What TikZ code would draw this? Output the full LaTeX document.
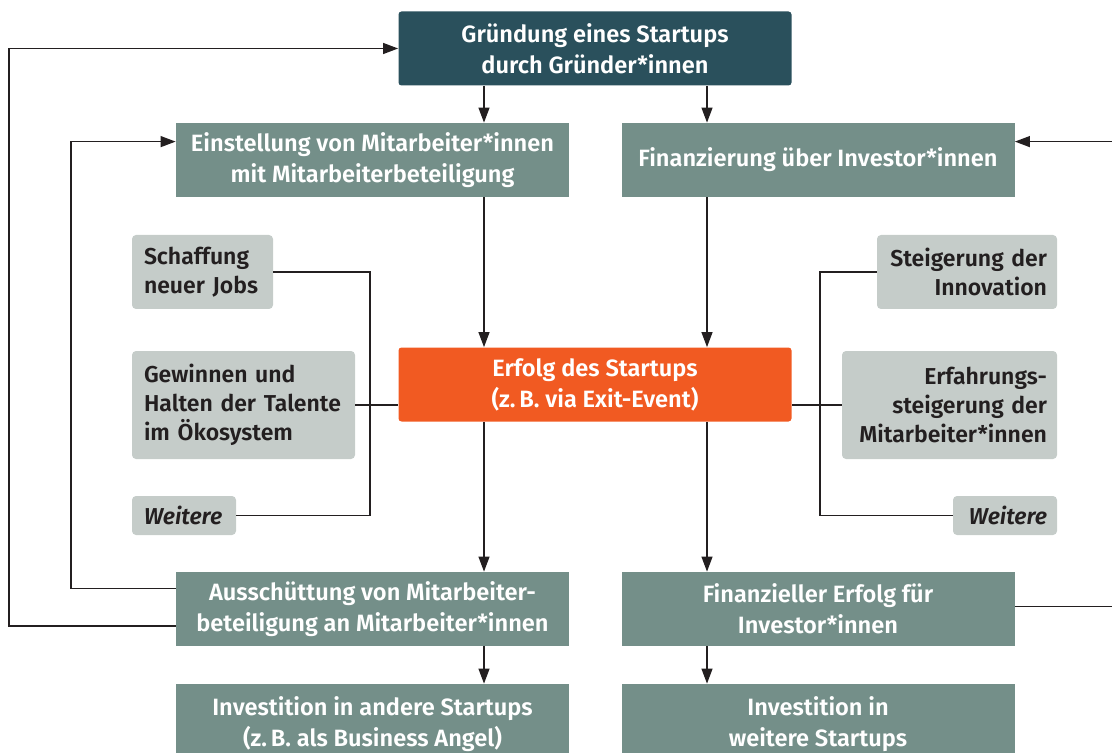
\documentclass[tikz,border=0pt]{standalone}
\usepackage{fontspec}
\setmainfont{Fira Sans}[BoldFont={Fira Sans SemiBold},BoldItalicFont={Fira Sans SemiBold Italic}]
\usetikzlibrary{arrows.meta,positioning,calc}
\definecolor{darkteal}{RGB}{42,80,92}
\definecolor{sagegreen}{RGB}{116,143,137}
\definecolor{lightsage}{RGB}{197,204,201}
\definecolor{brightorange}{RGB}{241,90,34}
\definecolor{inkblack}{RGB}{35,31,32}

\begin{document}
\begin{tikzpicture}[x=0.5pt,y=-0.5pt,
    font=\fontsize{11.8}{15.5}\selectfont\bfseries,
    mainbox/.style={rectangle,fill=sagegreen,text=white,inner sep=0pt,minimum width=196.5pt,minimum height=37pt,align=center},
    topbox/.style={mainbox,fill=darkteal,rounded corners=1.5pt},
    erfolgbox/.style={mainbox,fill=brightorange,rounded corners=1.5pt},
    sidebox/.style={rectangle,fill=lightsage,text=inkblack,rounded corners=2pt,inner xsep=6pt,inner ysep=0pt,align=left,
        font=\fontsize{11.5}{14.4}\selectfont\bfseries},
    sideboxr/.style={sidebox,inner xsep=5pt,align=right},
    flow/.style={draw=inkblack,line width=0.6pt,-{Triangle[length=7.5pt,width=5.5pt]}},
    link/.style={draw=inkblack,line width=0.6pt}]
    \useasboundingbox (0,0) rectangle (1112,753);

    % Main chain
    \node[topbox] (gruendung) at (595,48.5) {Gründung eines Startups\\durch Gründer*innen};
    \node[mainbox] (einstellung) at (372.5,160) {Einstellung von Mitarbeiter*innen\\mit Mitarbeiterbeteiligung};
    \node[mainbox] (finanzierung) at (818,160) {Finanzierung über Investor*innen};
    \node[erfolgbox] (erfolg) at (595,384.5) {Erfolg des Startups\\(z.\,B. via Exit-Event)};
    \node[mainbox] (ausschuettung) at (372.5,609) {Ausschüttung von Mitarbeiter-\\beteiligung an Mitarbeiter*innen};
    \node[mainbox] (finanzerfolg) at (818,609) {Finanzieller Erfolg für\\Investor*innen};
    \node[mainbox,minimum height=40pt] (investandere) at (372.5,724) {Investition in andere Startups\\(z.\,B. als Business Angel)};
    \node[mainbox,minimum height=40pt] (investweitere) at (818,724) {Investition in\\weitere Startups};

    % Side effects left
    \node[sidebox,text width=58.5pt,minimum height=37pt] (schaffung) at (202.5,272) {Schaffung\\neuer Jobs};
    \node[sidebox,text width=99.5pt,minimum height=54pt] (gewinnen) at (243.5,405) {Gewinnen und\\Halten der Talente\\im Ökosystem};
    \node[sidebox,text width=40pt,minimum height=19.5pt] (weiterel) at (184,515.5) {\textit{Weitere}};

    % Side effects right
    \node[sideboxr,text width=80pt,minimum height=37pt] (steigerung) at (967,272) {Steigerung der\\Innovation};
    \node[sideboxr,text width=97.5pt,minimum height=54pt] (erfahrung) at (949.5,405) {Erfahrungs-\\steigerung der\\Mitarbeiter*innen};
    \node[sideboxr,text width=42pt,minimum height=19.5pt] (weiterer) at (1005,515.5) {\textit{Weitere}};

    % Lanes and loops
    \coordinate (leftlane) at (484,0);
    \coordinate (rightlane) at (707,0);
    \coordinate (outerloop) at (9,400);
    \coordinate (innerloop) at (71,400);
    \coordinate (rightloop) at (1113,400);
    \coordinate (leftbrace) at (370,400);
    \coordinate (rightbrace) at (820,400);

    \draw[flow] (gruendung.south -| leftlane) -- (einstellung.north -| leftlane);
    \draw[flow] (gruendung.south -| rightlane) -- (finanzierung.north -| rightlane);
    \draw[flow] (einstellung.south -| leftlane) -- (erfolg.north -| leftlane);
    \draw[flow] (finanzierung.south -| rightlane) -- (erfolg.north -| rightlane);
    \draw[flow] (erfolg.south -| leftlane) -- (ausschuettung.north -| leftlane);
    \draw[flow] (erfolg.south -| rightlane) -- (finanzerfolg.north -| rightlane);
    \draw[flow] (ausschuettung.south -| leftlane) -- (investandere.north -| leftlane);
    \draw[flow] (finanzerfolg.south -| rightlane) -- (investweitere.north -| rightlane);

    \draw[flow] ([yshift=-8.5pt]ausschuettung.west) -| (outerloop) |- (gruendung.west);
    \draw[flow] ([yshift=10.3pt]ausschuettung.west) -| (innerloop) |- ([yshift=9.2pt]einstellung.west);
    \draw[flow] ([yshift=1.2pt]finanzerfolg.east) -| (rightloop) |- ([yshift=9.2pt]finanzierung.east);

    \draw[link] (schaffung.east) -| (leftbrace) |- (weiterel.east);
    \draw[link] (gewinnen.east) -- (gewinnen.east -| erfolg.west);
    \draw[link] (steigerung.west) -| (rightbrace) |- (weiterer.west);
    \draw[link] (erfahrung.west) -- (erfahrung.west -| erfolg.east);
\end{tikzpicture}
\end{document}
